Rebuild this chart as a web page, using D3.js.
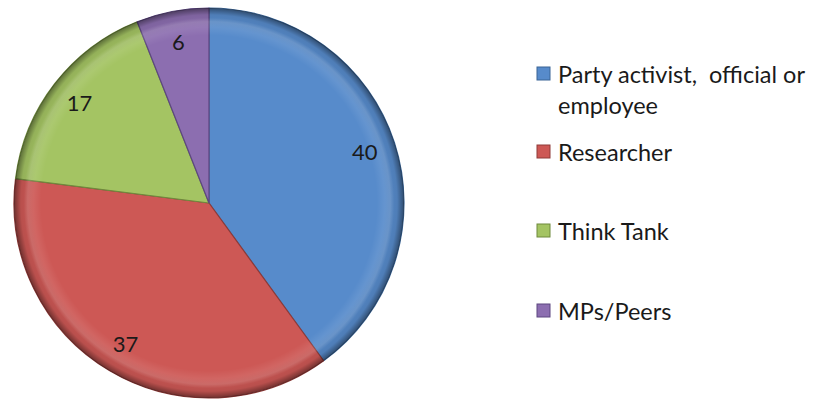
<!DOCTYPE html>
<html>
<head>
<meta charset="utf-8">
<script src="https://cdn.jsdelivr.net/npm/d3@7"></script>
<style>
  body { margin: 0; background: #fff; }
  text { font-family: Lato, "Open Sans", sans-serif; white-space: pre; }
</style>
</head>
<body>
<div id="chart"></div>
<script>
// data
var categories = ["Party activist,  official or employee", "Researcher", "Think Tank", "MPs/Peers"];
var values = [40, 37, 17, 6];
var colors = ["#578bcb", "#cd5855", "#a4c463", "#8c6eb0"];
var edgeColors = ["#3b6596", "#8f3a38", "#6f8a3d", "#5d4780"];
var legendLines = [["Party activist,  official or", "employee"], ["Researcher"], ["Think Tank"], ["MPs/Peers"]];

var svgWidth = 815;
var svgHeight = 400;
var cx = 209, cy = 203, radius = 195;

var svg = d3.select("#chart").append("svg")
  .attr("width", svgWidth)
  .attr("height", svgHeight);

var defs = svg.append("defs");

// darker rim, like the bevel in the original
var rim = defs.append("radialGradient")
  .attr("id", "rim")
  .attr("gradientUnits", "userSpaceOnUse")
  .attr("cx", 0).attr("cy", 0).attr("r", radius);
rim.append("stop").attr("offset", "0.9").attr("stop-color", "#000").attr("stop-opacity", 0);
rim.append("stop").attr("offset", "0.965").attr("stop-color", "#000").attr("stop-opacity", 0.1);
rim.append("stop").attr("offset", "1").attr("stop-color", "#000").attr("stop-opacity", 0.45);

var shine = defs.append("radialGradient")
  .attr("id", "shine")
  .attr("gradientUnits", "userSpaceOnUse")
  .attr("cx", 0).attr("cy", 0).attr("r", radius);
shine.append("stop").attr("offset", "0.86").attr("stop-color", "#fff").attr("stop-opacity", 0);
shine.append("stop").attr("offset", "0.93").attr("stop-color", "#fff").attr("stop-opacity", 0.14);
shine.append("stop").attr("offset", "0.95").attr("stop-color", "#fff").attr("stop-opacity", 0);

var pie = d3.pie().sort(null).value(function(d){ return d; });
var arcs = pie(values);

var arc = d3.arc().innerRadius(0).outerRadius(radius);
var labelArc = d3.arc().innerRadius(radius * 0.84).outerRadius(radius * 0.84);

var g = svg.append("g")
  .attr("transform", "translate(" + cx + "," + cy + ")");

g.selectAll(".slice")
  .data(arcs)
  .enter().append("path")
  .attr("class", "slice")
  .attr("d", arc)
  .attr("fill", function(d, i){ return colors[i]; })
  .attr("stroke", function(d, i){ return edgeColors[i]; })
  .attr("stroke-width", 1.2)
  .attr("stroke-linejoin", "round");

g.append("circle").attr("r", radius).attr("fill", "url(#shine)");
g.append("circle").attr("r", radius).attr("fill", "url(#rim)");

// value labels
g.selectAll(".val")
  .data(arcs)
  .enter().append("text")
  .attr("class", "val")
  .attr("transform", function(d){ return "translate(" + labelArc.centroid(d) + ")"; })
  .attr("text-anchor", "middle")
  .attr("dy", "0.36em")
  .attr("font-size", "22px")
  .attr("fill", "#1a1a1a")
  .text(function(d){ return d.data; });

// legend
var legendY = [83, 161, 240, 320];
var legend = svg.append("g");

var item = legend.selectAll(".item")
  .data(categories)
  .enter().append("g")
  .attr("class", "item")
  .attr("transform", function(d, i){ return "translate(537," + legendY[i] + ")"; });

item.append("rect")
  .attr("x", 0).attr("y", -16)
  .attr("width", 13).attr("height", 13)
  .attr("fill", function(d, i){ return colors[i]; })
  .attr("stroke", function(d, i){ return edgeColors[i]; })
  .attr("stroke-width", 1);

item.append("text")
  .attr("x", 21)
  .attr("font-size", "23.5px")
  .attr("fill", "#1a1a1a")
  .selectAll("tspan")
  .data(function(d, i){ return legendLines[i]; })
  .enter().append("tspan")
  .attr("x", 21)
  .attr("dy", function(d, j){ return j === 0 ? 0 : 31; })
  .text(function(d){ return d; });
</script>
</body>
</html>
